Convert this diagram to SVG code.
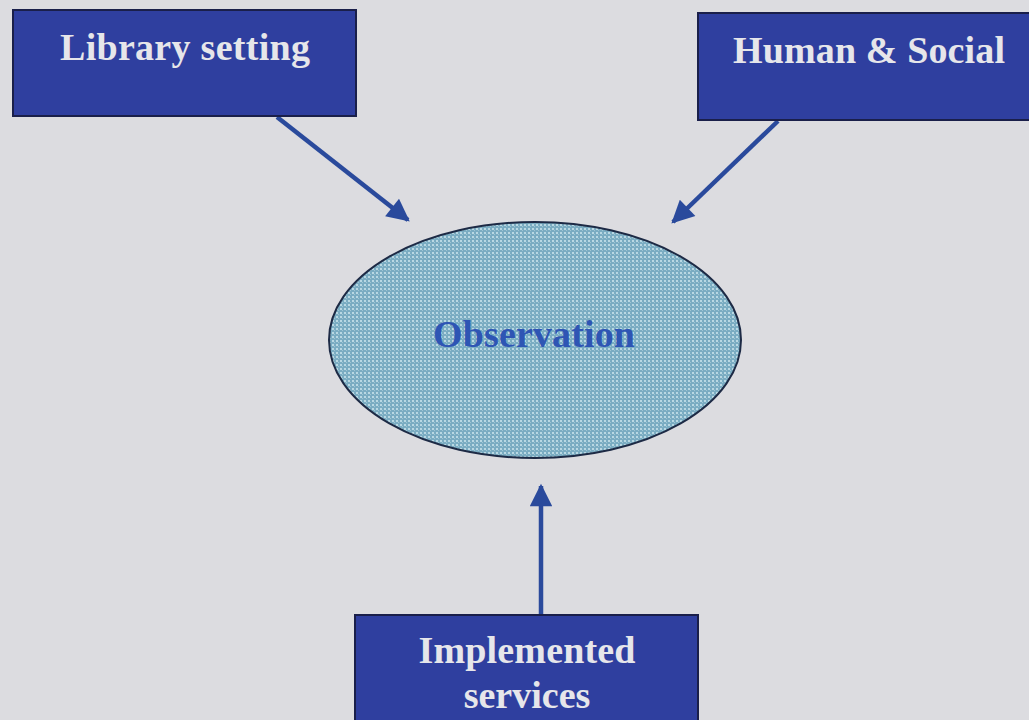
<svg xmlns="http://www.w3.org/2000/svg" width="1029" height="720" viewBox="0 0 1029 720">
<style>
.box{fill:#2f3f9f;stroke:#1a1f4a;stroke-width:2}
.lbl{font-family:"Liberation Serif","Times New Roman",serif;font-weight:bold;font-size:38px;fill:#e6e6ea;text-anchor:middle}
.conn{stroke:#2a4a9c;stroke-width:4.5;fill:none}
</style>
<defs>
<marker id="ah" viewBox="0 0 10 10" refX="9" refY="5" markerWidth="5.5" markerHeight="5" markerUnits="strokeWidth" orient="auto">
<path d="M0,0 L10,5 L0,10 z" fill="#2a4a9c"/>
</marker>
<pattern id="dots" width="4" height="4" patternUnits="userSpaceOnUse">
<rect width="4" height="4" fill="#7aacc2"/>
<rect x="0" y="0" width="2" height="2" fill="#b9d8e3"/>
<rect x="2" y="2" width="1" height="1" fill="#a0c6d4"/>
</pattern>
</defs>
<rect width="1029" height="720" fill="#dcdce0"/>
<g id="connectors">
<line class="conn" x1="277" y1="117" x2="408" y2="220" marker-end="url(#ah)"/>
<line class="conn" x1="778" y1="121" x2="673" y2="222" marker-end="url(#ah)"/>
<line class="conn" x1="541" y1="615" x2="541" y2="486" marker-end="url(#ah)"/>
</g>
<g id="library-setting">
<rect class="box" x="13" y="10" width="343" height="106"/>
<text class="lbl" x="185" y="60" textLength="250" lengthAdjust="spacing">Library setting</text>
</g>
<g id="human-social">
<rect class="box" x="698" y="13" width="340" height="107"/>
<text class="lbl" x="869" y="63" textLength="272" lengthAdjust="spacing">Human &amp; Social</text>
</g>
<g id="observation">
<ellipse cx="535" cy="340" rx="206" ry="118" fill="url(#dots)" stroke="#1d2a45" stroke-width="2"/>
<text class="lbl" x="534" y="347" style="fill:#2e55b4" textLength="202" lengthAdjust="spacing">Observation</text>
</g>
<g id="implemented-services">
<rect class="box" x="355" y="615" width="343" height="115"/>
<text class="lbl" x="527" y="663" textLength="217" lengthAdjust="spacing">Implemented</text>
<text class="lbl" x="527" y="708">services</text>
</g>
</svg>
